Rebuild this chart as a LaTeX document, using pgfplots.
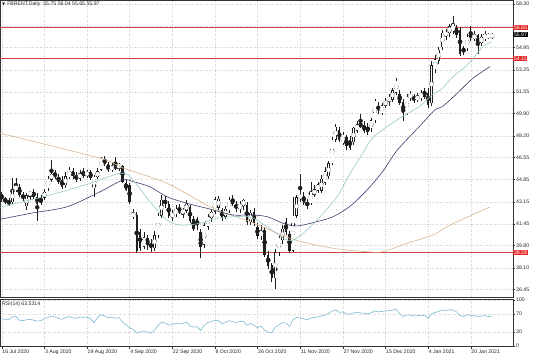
\documentclass[border=0pt]{standalone}
\usepackage{fontspec}
\setmainfont{Liberation Sans}
\newfontfamily\dejavu{DejaVu Sans}
\usepackage{pgfplots}
\usepackage{pgfplotstable}
\pgfplotsset{compat=1.18}
\definecolor{lvred}{RGB}{205,70,70}
\definecolor{boxred}{RGB}{228,40,40}
\definecolor{maTeal}{RGB}{150,200,200}
\definecolor{maNavy}{RGB}{60,60,110}
\definecolor{maTan}{RGB}{215,180,140}
\definecolor{rsiBlue}{RGB}{125,185,210}
\definecolor{gridc}{RGB}{205,205,205}
\definecolor{candle}{RGB}{30,30,30}

\pgfplotstableread{
i o h l c
0 43.75 43.90 43.10 43.35
1 43.35 43.55 42.95 43.20
2 43.20 43.45 42.80 43.00
3 43.10 44.95 43.00 44.05
4 44.05 44.95 43.90 44.40
5 44.30 44.50 43.50 43.65
6 43.65 43.90 43.20 43.45
7 42.80 43.80 42.50 43.65
8 43.65 44.00 43.30 43.90
9 43.90 44.10 43.40 43.55
10 43.55 43.80 41.65 43.00
11 43.40 43.70 42.90 43.05
12 43.45 44.10 43.30 43.90
13 44.20 45.10 44.00 44.90
14 44.85 46.35 44.70 45.30
15 45.30 45.60 44.90 45.10
16 45.07 45.30 44.50 44.70
17 44.80 45.10 44.10 44.30
18 44.40 45.40 44.20 45.10
19 45.05 45.80 44.90 45.60
20 45.50 45.70 44.90 45.10
21 45.10 45.40 44.70 44.90
22 44.90 45.60 44.75 45.35
23 45.35 45.70 45.00 45.20
24 45.20 45.60 44.95 45.40
25 45.40 45.55 44.80 45.00
26 44.20 45.20 43.55 45.05
27 45.05 45.70 44.90 45.50
28 45.60 46.60 45.50 46.50
29 46.45 46.65 45.90 46.05
30 46.05 46.20 45.40 45.55
31 45.55 46.10 45.40 45.95
32 45.90 46.55 45.60 45.75
33 45.75 46.10 45.50 46.00
34 45.90 46.00 44.60 44.70
35 44.60 44.80 43.95 44.05
36 44.40 44.60 42.95 43.15
37 42.00 42.60 41.80 42.30
38 42.15 42.35 39.20 39.35
39 40.85 41.10 39.40 39.65
40 39.70 40.80 39.50 40.45
41 40.40 40.60 39.45 39.85
42 40.00 40.30 39.30 39.60
43 39.60 40.90 39.35 40.60
44 40.60 42.30 40.40 42.10
45 42.10 43.70 41.90 43.30
46 43.30 43.60 42.70 42.95
47 42.95 43.20 41.90 42.05
48 42.05 42.50 41.70 42.20
49 42.20 42.90 41.95 42.60
50 42.60 42.95 42.20 42.35
51 42.35 42.70 41.90 42.45
52 42.45 43.30 42.30 43.00
53 42.75 42.90 41.50 41.65
54 41.80 42.10 40.90 41.10
55 41.80 42.00 41.00 41.35
56 40.80 41.10 38.85 39.70
57 39.85 41.50 39.60 41.35
58 41.25 42.20 41.00 42.00
59 41.90 42.50 41.60 42.40
60 42.40 43.50 42.20 43.35
61 42.70 43.60 42.50 43.40
62 42.50 42.70 41.70 41.90
63 42.00 42.80 41.80 42.60
64 42.50 43.50 42.30 43.30
65 43.40 43.70 42.80 43.00
66 43.00 43.20 42.40 42.60
67 42.60 43.20 42.30 43.00
68 42.80 43.40 42.50 43.30
69 42.90 43.10 41.40 41.60
70 41.60 42.50 41.40 42.30
71 42.40 42.70 41.30 41.50
72 41.20 41.50 40.30 40.50
73 40.50 41.40 40.20 40.95
74 41.00 41.20 38.90 39.10
75 39.10 39.40 38.00 38.20
76 38.30 38.50 37.00 37.30
77 37.30 39.50 36.45 39.30
78 39.30 40.60 39.00 40.40
79 40.20 41.40 39.90 41.10
80 41.60 41.90 40.60 40.80
81 40.70 40.90 39.20 39.40
82 39.40 43.50 39.30 42.10
83 42.10 43.70 41.90 43.50
84 43.50 45.30 43.10 43.60
85 43.60 43.90 42.90 43.05
86 43.15 43.40 42.60 42.80
87 43.05 44.70 42.90 43.90
88 43.70 44.40 43.50 44.10
89 44.00 44.70 43.80 44.50
90 44.00 45.20 43.80 44.90
91 44.60 45.80 44.40 45.50
92 45.10 46.30 44.90 46.10
93 46.10 48.10 46.00 47.90
94 47.90 49.10 47.70 48.90
95 48.65 48.90 47.70 47.90
96 47.65 48.50 47.50 48.30
97 48.10 48.30 47.10 47.40
98 47.90 48.20 47.10 47.30
99 47.70 48.90 47.50 48.80
100 48.60 49.30 48.40 49.10
101 49.20 49.90 48.80 48.90
102 49.00 49.30 48.40 48.60
103 48.90 49.20 48.30 48.50
104 48.80 49.60 48.50 49.40
105 49.40 51.00 49.20 50.90
106 50.40 50.80 49.90 50.20
107 49.95 50.70 49.80 50.55
108 50.50 51.10 50.30 50.90
109 50.80 51.40 50.50 51.20
110 50.95 51.90 50.80 51.70
111 51.50 52.60 51.30 52.40
112 51.40 51.70 50.60 50.70
113 50.80 51.00 49.30 49.95
114 49.95 51.40 49.80 51.20
115 51.10 51.60 50.90 51.40
116 51.20 51.40 50.70 50.95
117 51.00 51.50 50.80 51.20
118 51.10 51.70 50.90 51.50
119 51.60 51.90 51.00 51.20
120 51.50 51.90 50.30 50.55
121 50.70 53.90 50.50 53.60
122 53.30 54.40 53.00 54.05
123 53.95 55.00 53.70 54.80
124 55.00 56.30 54.80 56.10
125 55.90 56.40 55.50 56.10
126 56.05 56.80 55.80 56.60
127 56.20 57.35 56.00 56.80
128 56.45 56.70 55.70 55.90
129 56.30 56.50 54.30 54.50
130 54.90 55.10 54.40 54.60
131 54.90 56.00 54.70 55.80
132 56.05 56.60 55.50 55.67
133 55.70 56.20 55.50 55.90
134 55.90 56.00 54.50 55.15
135 55.30 56.00 55.10 55.80
136 55.60 56.20 55.50 56.00
137 55.80 56.10 55.60 55.90
138 55.75 56.04 55.65 55.97
}\candles

\pgfplotstableread{
i v
-0.5 42.73
13.6 43.67
24.9 44.57
33.3 45.33
36.5 44.97
41.7 43.16
46.5 41.76
50.2 41.37
55.8 41.50
60.6 41.89
65.1 42.00
69.9 42.00
74.7 41.24
79.2 40.38
82.0 40.20
85.9 40.99
89.6 42.00
94.4 43.54
98.0 45.30
101.7 46.90
104.2 48.00
107.9 48.80
112.7 49.67
117.5 50.43
121.1 51.33
123.9 51.80
127.0 52.73
131.0 53.62
134.6 54.77
136.0 55.15
138.0 55.40
}\maA

\pgfplotstableread{
i v
-0.5 41.81
8.8 42.30
18.4 42.77
27.7 43.92
34.1 44.82
37.0 44.69
41.7 44.30
46.5 43.54
52.2 43.03
57.8 42.65
65.1 42.14
69.9 42.15
74.7 42.01
79.2 41.50
83.1 41.30
88.7 41.63
93.3 42.01
98.0 42.80
102.8 44.05
107.3 45.50
111.3 47.10
117.5 48.90
121.9 50.18
124.0 50.43
128.2 51.46
132.6 52.60
137.4 53.50
}\maB

\pgfplotstableread{
i v
-0.5 48.40
27.7 46.48
34.1 45.74
46.5 44.57
59.5 42.65
69.9 41.63
82.0 40.28
93.3 39.59
102.8 39.33
107.3 39.33
114.1 39.97
121.4 40.61
126.2 41.37
137.4 42.75
}\maC

\pgfplotstableread{
i v
0 59
1 58
2 57
3 63
4 64
5 56
6 55
7 57
8 58
9 56
10 54
11 55
12 59
13 62
14 65
15 63
16 60
17 58
18 62
19 64
20 61
21 60
22 63
23 62
24 63
25 59
26 51
27 62
28 68
29 65
30 61
31 63
32 60
33 62
34 52
35 46
36 40
37 36
38 28
39 31
40 33
41 30
42 28
43 34
44 45
45 52
46 50
47 45
48 47
49 49
50 48
51 49
52 52
53 44
54 41
55 42
56 34
57 45
58 51
59 53
60 56
61 55
62 48
63 51
64 55
65 53
66 51
67 53
68 54
69 45
70 49
71 45
72 40
73 43
74 34
75 30
76 29
77 41
78 46
79 51
80 50
81 43
82 57
83 62
84 61
85 59
86 57
87 61
88 62
89 63
90 65
91 67
92 71
93 76
94 78
95 73
96 74
97 70
98 69
99 72
100 73
101 72
102 71
103 70
104 72
105 76
106 74
107 75
108 76
109 77
110 78
111 80
112 70
113 64
114 67
115 67
116 65
117 66
118 67
119 66
120 60
121 70
122 73
123 75
124 78
125 77
126 79
127 78
128 74
129 66
130 64
131 68
132 66
133 66
134 63
135 65
136 66
137 64
138 63.53
}\rsi

\pgfplotsset{
  mtbase/.style={
    scale only axis, width=513bp,
    xmin=-0.48, xmax=143.9,
    axis line style={black!80, line width=0.6bp},
    xtick={0,12,...,132},
    grid=major, grid style={gridc, dash pattern=on 1bp off 1.5bp, line width=0.4bp},
    tick align=outside, major tick length=2bp,
    tick style={black!80, line width=0.4bp},
    ytick pos=right, yticklabel pos=right,
    yticklabel style={font=\fontsize{5.2}{6}\selectfont, text=black!85, anchor=west, inner sep=1bp},
    clip mode=individual,
  },
}

\begin{document}
\begin{tikzpicture}
\path[use as bounding box] (0,0) rectangle (536bp,-357bp);

\begin{axis}[mtbase,
  at={(0bp,0bp)}, anchor=north west, height=297bp,
  ymin=35.86, ymax=58.60,
  xticklabels={}, xtick pos=bottom, xtick style={draw=none},
  ytick={36.45,38.10,39.80,41.45,43.15,44.85,46.55,48.20,49.90,51.55,53.25,54.95,56.60,58.30},
  yticklabels={36.45,38.10,39.80,41.45,43.15,44.85,46.55,48.20,49.90,51.55,53.25,54.95,{},58.30},
]
% horizontal levels
\addplot[lvred, line width=0.8bp] coordinates {(-1,56.48) (145,56.48)};
\addplot[lvred, line width=0.8bp] coordinates {(-1,54.11) (145,54.11)};
\addplot[lvred, line width=0.8bp] coordinates {(-1,39.28) (145,39.28)};
% wicks
\addplot[only marks, mark=none, candle,
  error bars/.cd, y dir=both, y explicit, error mark=none,
  error bar style={candle, line width=0.5bp}]
  table[x=i, y expr={(\thisrow{h}+\thisrow{l})/2}, y error expr={(\thisrow{h}-\thisrow{l})/2}] {\candles};
% black bodies
\addplot[only marks, mark=none, candle,
  restrict expr to domain={\thisrow{o}-\thisrow{c}}{0.00001:100},
  error bars/.cd, y dir=both, y explicit, error mark=none,
  error bar style={candle, line width=2.4bp}]
  table[x=i, y expr={(\thisrow{o}+\thisrow{c})/2}, y error expr={max((\thisrow{o}-\thisrow{c})/2,0.035)}] {\candles};
% white bodies: outline
\addplot[only marks, mark=none, candle,
  restrict expr to domain={\thisrow{c}-\thisrow{o}}{0:100},
  error bars/.cd, y dir=both, y explicit, error mark=none,
  error bar style={candle, line width=2.4bp}]
  table[x=i, y expr={(\thisrow{o}+\thisrow{c})/2}, y error expr={max((\thisrow{c}-\thisrow{o})/2,0.035)}] {\candles};
% white bodies: fill
\addplot[only marks, mark=none, white,
  restrict expr to domain={\thisrow{c}-\thisrow{o}}{0:100},
  error bars/.cd, y dir=both, y explicit, error mark=none,
  error bar style={white, line width=1.5bp}]
  table[x=i, y expr={(\thisrow{o}+\thisrow{c})/2}, y error expr={max((\thisrow{c}-\thisrow{o})/2-0.035,0)}] {\candles};
% moving averages
\addplot[maTan, line width=0.6bp, smooth] table[x=i, y=v] {\maC};
\addplot[maNavy, line width=0.6bp, smooth] table[x=i, y=v] {\maB};
\addplot[maTeal, line width=0.6bp, smooth] table[x=i, y=v] {\maA};
% price boxes
\node[fill=boxred, text=white, inner sep=0.8bp, anchor=west, font=\fontsize{5.2}{6}\selectfont] at (axis cs:143.9,56.48) {56.65};
\node[fill=black, text=white, inner sep=0.8bp, anchor=west, font=\fontsize{5.2}{6}\selectfont] at (axis cs:143.9,55.97) {55.97};
\node[fill=boxred, text=white, inner sep=0.8bp, anchor=west, font=\fontsize{5.2}{6}\selectfont] at (axis cs:143.9,54.11) {54.11};
\node[fill=boxred, text=white, inner sep=0.8bp, anchor=west, font=\fontsize{5.2}{6}\selectfont] at (axis cs:143.9,39.28) {39.28};
\node[anchor=north west, inner sep=0pt, font=\fontsize{5.2}{6}\selectfont, text=black!85] at ([yshift=-1.5bp]rel axis cs:0,1) {\hspace{2bp}{\dejavu\fontsize{4}{5}\selectfont ▼}\hspace{2bp}FBRENT,Daily\hspace{3bp}55.75 56.04 55.65 55.97};
\end{axis}

\begin{axis}[mtbase,
  at={(0bp,-299bp)}, anchor=north west, height=47.5bp,
  ymin=-1, ymax=102,
  ytick={0,30,70,100}, yticklabels={0,30,70,100},
  xtick pos=bottom,
  xticklabels={16 Jul 2020,3 Aug 2020,19 Aug 2020,4 Sep 2020,22 Sep 2020,8 Oct 2020,26 Oct 2020,11 Nov 2020,27 Nov 2020,15 Dec 2020,4 Jan 2021,20 Jan 2021},
  xticklabel style={font=\fontsize{5.2}{6}\selectfont, text=black!85, anchor=north west, inner sep=0.5bp, yshift=-1bp},
]
\addplot[rsiBlue, line width=0.6bp] table[x=i, y=v] {\rsi};
\node[anchor=north west, inner sep=0pt, font=\fontsize{5.2}{6}\selectfont, text=black!85] at ([xshift=2bp,yshift=-3bp]rel axis cs:0,1) {RSI(14) 63.5314};
\end{axis}
\end{tikzpicture}
\end{document}
